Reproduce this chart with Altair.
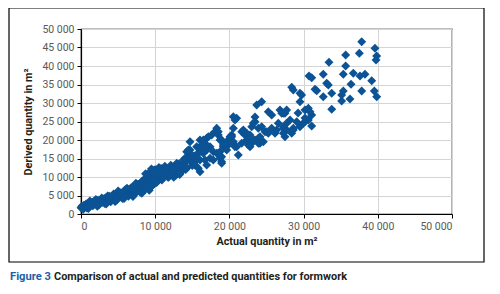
import altair as alt
import pandas as pd

# Actual quantity (m2) and derived quantity (m2)
actual = [
    # dense band, low end
    0, 100, 200, 300, 400, 500, 600, 700, 800, 900, 1000, 1100, 1200, 1300, 1400, 1500, 1600, 1700, 1800, 1900,
    2000, 2100, 2200, 2300, 2400, 2500, 2600, 2700, 2800, 2900, 3000, 3100, 3200, 3300, 3400, 3500, 3600, 3700,
    3800, 3900, 4000, 4100, 4200, 4300, 4400, 4500, 4600, 4700, 4800, 4900, 5000, 5100, 5200, 5300, 5400, 5500,
    5600, 5700, 5800, 5900, 6000, 6100, 6200, 6300, 6400, 6500, 6600, 6700, 6800, 6900, 7000, 7100, 7200, 7300,
    7400, 7500, 7600, 7700, 7800, 7900, 8000, 8100, 8200, 8300, 8400, 8500, 8600, 8700, 8800, 8900, 9000, 9100,
    9200, 9300, 9400, 9500, 9600, 9700, 9800, 9900, 10000, 10100, 10200, 10300, 10400, 10500, 10700, 10800,
    11000, 11200, 11400, 11600, 11800, 12000, 12200, 12400, 12600, 12800, 13000, 13200, 13500, 13700, 14000,
    14300, 14500, 14700, 15000, 15300, 15600, 15800, 9500, 9800,
    # band edges
    300, 800, 1200, 1600, 2000, 2400, 2800, 3200, 3600, 4000, 4400, 4800, 5200, 5600, 6000, 6400, 6800, 7200,
    7600, 8000, 8300, 8600, 8900, 9100, 9300, 9600, 9900, 10200, 10500, 10900, 11300, 11700, 12100, 12500,
    12900, 13300, 13800, 14100, 14600, 15100,
    1000, 2200, 3400, 4600, 5800, 7000, 8200, 9200,
    1400, 2600, 3800, 5000, 6200, 7400, 8700, 9500,
    # middle
    20980, 25240, 25700, 27490, 29070, 28610, 26590, 27260, 23450, 23010, 24350, 24800, 25240, 20310, 20080,
    21660, 22100, 22330, 23900, 24120, 21200, 27490, 28400, 26150, 19640, 19850, 20750, 22550, 23010,
    20530, 20750, 18060, 18500, 16940, 16480, 20080, 14690, 14920, 15590, 16040, 17390, 17830, 18730, 18960,
    14020, 13790, 13340, 12900, 15360, 15810, 16040, 16710, 16940, 10650, 11550, 12440, 11090, 11990, 13340,
    18290, 18500, 16040, 16270, 17160, 17610, 18960, 19180, 14460, 15140, 16480, 18290, 18730, 18960, 17390, 13110,
    20530, 21880, 22330, 22780, 20310, 20530, 20980, 21660, 22780, 23450, 24120, 25030, 25700, 26370, 27260,
    27720, 28170, 23450, 23220, 23900, 16480, 16940, 16270, 18730, 19180, 19640, 18500,
    31090, 27260, 27720, 28610, 30190, 30640, 31090, 30640, 30190, 29960, 29510, 26820, 27260, 23220, 23900,
    24570, 22780, 14690, 15590, 16480, 16940, 14240, 14920, 14020, 17830, 18960,
    # upper sparse
    37830, 39620, 37510, 39850, 39760, 35670, 33420, 35670, 30730, 31090, 32650, 35350, 36700, 37600, 38270,
    39180, 33110, 33330, 36390, 28400, 28610, 31540, 31770, 37830, 39530, 39850, 29510, 29740, 32650, 33790,
    35350, 35130, 35130, 36250, 29510, 33790, 30860, 27720, 27050, 29250, 30190, 24350, 23680,
]
derived = [
    1700, 2100, 1600, 2000, 2400, 1900, 2300, 2700, 2200, 2600, 3000, 2500, 2800, 3200, 2700, 3100, 2900, 3400, 3000, 3300,
    2800, 3500, 3100, 3700, 3300, 3000, 3600, 3900, 3400, 3200, 3800, 4100, 3600, 4300, 3900, 3500, 4200, 4500,
    4000, 3800, 4400, 4800, 4200, 4700, 4000, 5000, 4500, 5300, 4800, 4300, 5100, 5500, 4900, 5400, 4600, 5700,
    5200, 6000, 5500, 5000, 6100, 5700, 6400, 5300, 6000, 6600, 5800, 6300, 5500, 7000, 6500, 6000, 7300, 6800,
    7600, 6300, 7100, 8000, 7400, 6900, 8300, 7700, 8800, 7200, 8100, 9200, 8500, 7500, 9600, 8900, 10100, 9300,
    8200, 10600, 9800, 11200, 8700, 10300, 11600, 9500, 10800, 12000, 9900, 11300, 10500, 11800, 10100, 12300,
    11000, 10600, 12500, 11500, 9900, 11800, 10900, 12700, 11400, 10500, 12200, 13500, 12800, 11800, 13900,
    12500, 15300, 14300, 13100, 15700, 14600, 16500, 7500, 8000,
    1300, 1600, 3500, 2200, 3900, 2400, 4300, 2800, 4900, 3300, 5400, 3700, 5900, 4200, 6600, 4800, 7200, 5300,
    7900, 5900, 9000, 6500, 10300, 7000, 11400, 7700, 11900, 8500, 12600, 9200, 12900, 10000, 13200, 9900,
    13700, 10700, 14600, 12000, 16200, 14000,
    1500, 2100, 2700, 3400, 4200, 4700, 5600, 6400,
    3000, 3700, 4800, 6200, 7000, 8300, 10900, 12200,
    25860, 27650, 26760, 27220, 24950, 23160, 24510, 23590, 24950, 23590, 23590, 22240, 21810, 21350, 20460,
    22240, 21350, 20000, 20460, 19110, 15950, 20890, 21810, 21810, 19540, 18650, 18190, 18650, 19110,
    26300, 25410, 22240, 21350, 20460, 19540, 20890, 17300, 15950, 15950, 14590, 18190, 16840, 16840, 15490,
    14590, 13240, 12780, 12350, 13240, 12350, 11430, 14590, 13240, 11890, 12350, 11890, 10080, 10540, 11000,
    23160, 22240, 20000, 18650, 20890, 21350, 20000, 18190, 17300, 15490, 16400, 16400, 15050, 14130, 15050, 13240,
    23160, 22700, 21810, 21350, 20890, 19540, 18190, 19110, 19540, 20000, 20890, 22240, 23160, 22700, 23160,
    24510, 25410, 26220, 24510, 23160, 20000, 18650, 17300, 20000, 18650, 17300, 16400,
    23800, 21810, 22700, 22700, 28110, 28560, 26760, 25410, 24950, 24510, 23590, 28110, 27220, 20000, 19110,
    19540, 18190, 19540, 18190, 18650, 17300, 16840, 15490, 15050, 14590, 13700,
    46570, 44780, 43430, 42700, 41620, 42970, 41000, 40000, 37300, 36840, 37760, 37760, 38030, 37300, 37760,
    36030, 35320, 34860, 35050, 34240, 33510, 33700, 33330, 33240, 33240, 31700, 32620, 32160, 31700, 32620,
    33240, 32160, 30540, 31080, 30350, 28300, 27650, 28110, 27220, 27300, 25950, 30350, 29460,
]

x_ticks = [0, 10000, 20000, 30000, 40000, 50000]
y_ticks = [0, 5000, 10000, 15000, 20000, 25000, 30000, 35000, 40000, 45000, 50000]

df = pd.DataFrame({"actual": actual, "derived": derived})

FONT = "Roboto"
label_expr = "replace(format(datum.value, ','), ',', ' ')"

points = alt.Chart(df).mark_point(
    shape="diamond", filled=True, size=80, opacity=1, color="#0b5394"
).encode(
    x=alt.X("actual:Q", scale=alt.Scale(domain=[0, 50000], nice=False),
            axis=alt.Axis(values=x_ticks, labelExpr=label_expr, title="Actual quantity in m²",
                          titlePadding=4)),
    y=alt.Y("derived:Q", scale=alt.Scale(domain=[0, 50000], nice=False),
            axis=alt.Axis(values=y_ticks, labelExpr=label_expr, title="Derived quantity in m²",
                          titlePadding=8)),
)

frame = alt.Chart(pd.DataFrame({"a": [0]})).mark_rect(
    fill=None, stroke="black", strokeWidth=1.2
).encode(
    x=alt.value(-72), x2=alt.value(403), y=alt.value(-21), y2=alt.value(233)
)

cap1 = alt.Chart(pd.DataFrame({"t": ["Figure 3"]})).mark_text(
    align="left", baseline="alphabetic", font=FONT, fontSize=11.2, fontWeight="bold", color="#1f5fa6"
).encode(x=alt.value(-71), y=alt.value(251), text="t:N")

cap2 = alt.Chart(pd.DataFrame({"t": ["Comparison of actual and predicted quantities for formwork"]})).mark_text(
    align="left", baseline="alphabetic", font=FONT, fontSize=10.9, fontWeight="bold", color="#231f20"
).encode(x=alt.value(-27), y=alt.value(251), text="t:N")

chart = alt.layer(points, frame, cap1, cap2).properties(
    width=371, height=185,
    padding={"left": 73, "top": 21, "right": 35, "bottom": 70},
    autosize=alt.AutoSizeParams(type="none"),
).configure_view(
    stroke="black", strokeWidth=1.2
).configure_axis(
    domainColor="black", domainWidth=1.2, tickColor="black", tickSize=4,
    gridColor="#d4d4d4", gridWidth=1,
    labelFont=FONT, labelFontSize=10.5, labelColor="#595959",
    titleFont=FONT, titleFontSize=10.8, titleFontWeight="bold", titleColor="#231f20",
    labelPadding=3,
)

chart.save("out.html", embed_options={"renderer": "svg", "actions": False})
